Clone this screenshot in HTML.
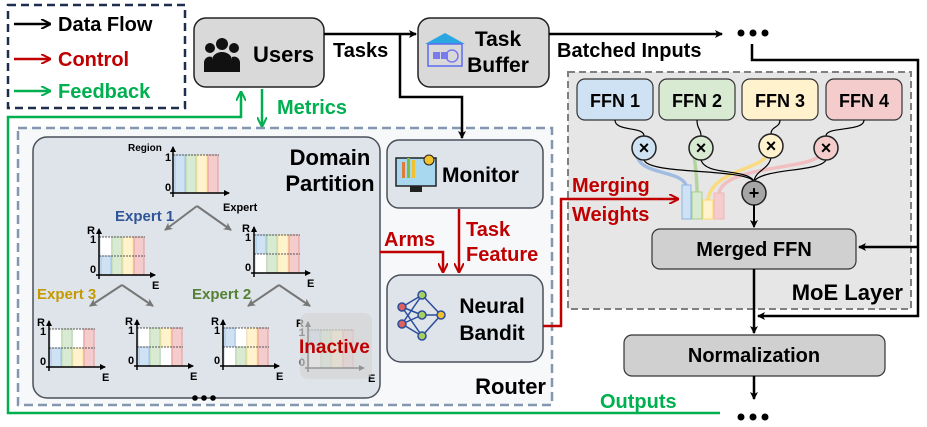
<!DOCTYPE html>
<html><head><meta charset="utf-8"><style>
body{margin:0;background:#fff}
svg{display:block;font-family:"Liberation Sans",sans-serif;font-weight:bold}
</style></head><body>
<svg width="927" height="427" viewBox="0 0 927 427" xmlns="http://www.w3.org/2000/svg">
<defs>
<marker id="ak" markerWidth="8" markerHeight="8" refX="7" refY="4" orient="auto" markerUnits="userSpaceOnUse"><path d="M0,0 L8,4 L0,8 L2,4z" fill="#000"/></marker>
<marker id="ar" markerWidth="10" markerHeight="10" refX="9" refY="5" orient="auto" markerUnits="userSpaceOnUse"><path d="M0,0 L10,5 L0,10" fill="none" stroke="#c00000" stroke-width="2"/></marker>
<marker id="ag" markerWidth="10" markerHeight="10" refX="9" refY="5" orient="auto" markerUnits="userSpaceOnUse"><path d="M0,0 L10,5 L0,10" fill="none" stroke="#00b050" stroke-width="2"/></marker>
<marker id="ab" markerWidth="10" markerHeight="10" refX="9" refY="5" orient="auto" markerUnits="userSpaceOnUse"><path d="M0,0 L10,5 L0,10" fill="none" stroke="#000" stroke-width="2"/></marker>
<marker id="agr" markerWidth="8" markerHeight="8" refX="7" refY="4" orient="auto" markerUnits="userSpaceOnUse"><path d="M0,0 L8,4 L0,8 L2,4z" fill="#777"/></marker>
<marker id="sk" markerWidth="6" markerHeight="6" refX="5" refY="3" orient="auto" markerUnits="userSpaceOnUse"><path d="M0,0 L6,3 L0,6z" fill="#000"/></marker>
</defs>

<rect x="8" y="5" width="177" height="103" fill="none" stroke="#1f2d4e" stroke-width="2.5" stroke-dasharray="8,5"/>
<line x1="14" y1="24" x2="50" y2="24" stroke="#000" stroke-width="2.5" marker-end="url(#ab)"/>
<text x="58" y="31" font-size="20">Data Flow</text>
<line x1="14" y1="59" x2="50" y2="59" stroke="#c00000" stroke-width="2.5" marker-end="url(#ar)"/>
<text x="58" y="66" font-size="20" fill="#c00000">Control</text>
<line x1="14" y1="91" x2="50" y2="91" stroke="#00b050" stroke-width="2.5" marker-end="url(#ag)"/>
<text x="58" y="98" font-size="20" fill="#00b050">Feedback</text>

<rect x="18" y="128" width="534" height="277" fill="#f7f8fa" stroke="#8496b0" stroke-width="2.5" stroke-dasharray="9,5"/>
<rect x="568" y="72" width="343" height="237" fill="#e6e6e6" stroke="#808080" stroke-width="2" stroke-dasharray="7,4"/>

<polyline points="720,413 8,413 8,117 241,117 241,92" fill="none" stroke="#00b050" stroke-width="2.5" marker-end="url(#ag)"/>
<line x1="262" y1="89" x2="262" y2="126" stroke="#00b050" stroke-width="2.5" marker-end="url(#ag)"/>
<text x="277" y="114" font-size="20" fill="#00b050">Metrics</text>
<text x="600" y="408" font-size="20" fill="#00b050">Outputs</text>

<rect x="194" y="18" width="130" height="69" rx="12" fill="#d9d9d9" stroke="#222" stroke-width="1.5"/>
<g fill="#111">
<circle cx="222" cy="44" r="6"/><circle cx="210" cy="48" r="5"/><circle cx="234" cy="48" r="5"/>
<path d="M212,72 v-12 a10,8 0 0 1 20,0 v12z"/><path d="M204,72 v-10 a6,6 0 0 1 8,-5 v15z"/><path d="M232,72 v-15 a6,6 0 0 1 8,5 v10z"/>
</g>
<text x="253" y="62" font-size="22">Users</text>
<text x="333" y="57" font-size="20">Tasks</text>

<rect x="418" y="18" width="131" height="69" rx="12" fill="#d9d9d9" stroke="#222" stroke-width="1.5"/>
<path d="M425,44 L445,33 L465,44z" fill="#2aa6e0"/>
<rect x="428" y="44" width="34" height="22" fill="none" stroke="#5b6cf0" stroke-width="1.5"/>
<rect x="433" y="52" width="7" height="7" fill="#7a7af0"/><rect x="441" y="52" width="7" height="7" fill="#7a7af0"/>
<circle cx="452" cy="56" r="6" fill="none" stroke="#7a7af0" stroke-width="1.5"/>
<text x="498" y="46" font-size="21" text-anchor="middle">Task</text>
<text x="498" y="72" font-size="21" text-anchor="middle">Buffer</text>

<line x1="324" y1="34" x2="416" y2="34" stroke="#000" stroke-width="2.5" marker-end="url(#ak)"/>
<polyline points="400,34 400,97 462,97 462,138" fill="none" stroke="#000" stroke-width="2.5" marker-end="url(#ak)"/>
<line x1="549" y1="34" x2="722" y2="34" stroke="#000" stroke-width="2.5" marker-end="url(#ak)"/>
<text x="557" y="57" font-size="20">Batched Inputs</text>
<g fill="#000"><circle cx="741" cy="33" r="3.5"/><circle cx="753" cy="33" r="3.5"/><circle cx="765" cy="33" r="3.5"/></g>
<polyline points="752,44 752,60 918,60 918,316 758,316" fill="none" stroke="#000" stroke-width="2.5" marker-end="url(#ak)"/>
<line x1="918" y1="247" x2="859" y2="247" stroke="#000" stroke-width="2.5" marker-end="url(#ak)"/>

<rect x="33" y="137" width="347" height="261" rx="14" fill="#dfe3ea" stroke="#4a4f5a" stroke-width="1.5"/>
<text x="330" y="165" font-size="22" text-anchor="middle">Domain</text>
<text x="330" y="191" font-size="22" text-anchor="middle">Partition</text>

<g stroke="#777" stroke-width="2" fill="none">
<line x1="197" y1="206" x2="165" y2="230" marker-end="url(#agr)"/><line x1="197" y1="206" x2="231" y2="230" marker-end="url(#agr)"/>
<line x1="122" y1="285" x2="90" y2="306" marker-end="url(#agr)"/><line x1="122" y1="285" x2="153" y2="306" marker-end="url(#agr)"/>
<line x1="279" y1="285" x2="248" y2="306" marker-end="url(#agr)"/><line x1="279" y1="285" x2="310" y2="306" marker-end="url(#agr)"/>
</g>
<text x="115" y="221" font-size="15" fill="#2e5597">Expert 1</text>
<text x="37" y="299" font-size="15" fill="#c49a00">Expert 3</text>
<text x="192" y="299" font-size="15" fill="#538135">Expert 2</text>

<g transform="translate(173,193)">
<rect x="2" y="-38" width="10" height="38" fill="#cfe2f3" stroke="#9fc5e8"/>
<rect x="13" y="-38" width="10" height="38" fill="#d9ead3" stroke="#b6d7a8"/>
<rect x="24" y="-38" width="10" height="38" fill="#fff2cc" stroke="#ffe599"/>
<rect x="35" y="-38" width="10" height="38" fill="#f4cccc" stroke="#ea9999"/>
<line x1="0" y1="-38" x2="46" y2="-38" stroke="#555" stroke-dasharray="2,1"/>
<line x1="0" y1="4" x2="0" y2="-46" stroke="#000" stroke-width="1.5" marker-end="url(#sk)"/>
<line x1="-3" y1="0" x2="56" y2="0" stroke="#000" stroke-width="1.5" marker-end="url(#sk)"/>
<text x="-45" y="-42" font-size="10">Region</text>
<text x="-8" y="-32" font-size="11">1</text><text x="-8" y="-2" font-size="11">0</text>
<text x="50" y="18" font-size="11">Expert</text>
</g>

<g transform="translate(99,275)">
<rect x="2" y="-38" width="10" height="19" fill="#fff"/><rect x="2" y="-19" width="10" height="19" fill="#cfe2f3" stroke="#9fc5e8"/>
<rect x="13" y="-38" width="10" height="38" fill="#d9ead3" stroke="#b6d7a8"/>
<rect x="24" y="-38" width="10" height="38" fill="#fff2cc" stroke="#ffe599"/>
<rect x="35" y="-38" width="10" height="38" fill="#f4cccc" stroke="#ea9999"/>
<line x1="0" y1="-38" x2="46" y2="-38" stroke="#555" stroke-dasharray="2,1"/><line x1="0" y1="-19" x2="46" y2="-19" stroke="#555" stroke-dasharray="2,1"/>
<line x1="0" y1="4" x2="0" y2="-46" stroke="#000" stroke-width="1.5" marker-end="url(#sk)"/><line x1="-3" y1="0" x2="56" y2="0" stroke="#000" stroke-width="1.5" marker-end="url(#sk)"/>
<text x="-12" y="-41" font-size="11">R</text><text x="-9" y="-32" font-size="11">1</text><text x="-9" y="-2" font-size="11">0</text><text x="53" y="14" font-size="11">E</text>
</g>
<g transform="translate(254,273)">
<rect x="2" y="-38" width="10" height="19" fill="#cfe2f3" stroke="#9fc5e8"/><rect x="2" y="-19" width="10" height="19" fill="#fff"/>
<rect x="13" y="-38" width="10" height="38" fill="#d9ead3" stroke="#b6d7a8"/>
<rect x="24" y="-38" width="10" height="38" fill="#fff2cc" stroke="#ffe599"/>
<rect x="35" y="-38" width="10" height="38" fill="#f4cccc" stroke="#ea9999"/>
<line x1="0" y1="-38" x2="46" y2="-38" stroke="#555" stroke-dasharray="2,1"/><line x1="0" y1="-19" x2="46" y2="-19" stroke="#555" stroke-dasharray="2,1"/>
<line x1="0" y1="4" x2="0" y2="-46" stroke="#000" stroke-width="1.5" marker-end="url(#sk)"/><line x1="-3" y1="0" x2="56" y2="0" stroke="#000" stroke-width="1.5" marker-end="url(#sk)"/>
<text x="-12" y="-41" font-size="11">R</text><text x="-9" y="-32" font-size="11">1</text><text x="-9" y="-2" font-size="11">0</text><text x="53" y="14" font-size="11">E</text>
</g>
<g transform="translate(49,367)">
<rect x="2" y="-38" width="10" height="19" fill="#fff"/><rect x="2" y="-19" width="10" height="19" fill="#cfe2f3" stroke="#9fc5e8"/>
<rect x="13" y="-38" width="10" height="38" fill="#d9ead3" stroke="#b6d7a8"/>
<rect x="24" y="-38" width="10" height="19" fill="#fff"/><rect x="24" y="-19" width="10" height="19" fill="#fff2cc" stroke="#ffe599"/>
<rect x="35" y="-38" width="10" height="38" fill="#f4cccc" stroke="#ea9999"/>
<line x1="0" y1="-38" x2="46" y2="-38" stroke="#555" stroke-dasharray="2,1"/><line x1="0" y1="-19" x2="46" y2="-19" stroke="#555" stroke-dasharray="2,1"/>
<line x1="0" y1="4" x2="0" y2="-46" stroke="#000" stroke-width="1.5" marker-end="url(#sk)"/><line x1="-3" y1="0" x2="56" y2="0" stroke="#000" stroke-width="1.5" marker-end="url(#sk)"/>
<text x="-12" y="-41" font-size="11">R</text><text x="-9" y="-32" font-size="11">1</text><text x="-9" y="-2" font-size="11">0</text><text x="53" y="14" font-size="11">E</text>
</g>
<g transform="translate(137,366)">
<rect x="2" y="-38" width="10" height="19" fill="#fff"/><rect x="2" y="-19" width="10" height="19" fill="#cfe2f3" stroke="#9fc5e8"/>
<rect x="13" y="-38" width="10" height="38" fill="#d9ead3" stroke="#b6d7a8"/>
<rect x="24" y="-38" width="10" height="19" fill="#fff2cc" stroke="#ffe599"/><rect x="24" y="-19" width="10" height="19" fill="#fff"/>
<rect x="35" y="-38" width="10" height="38" fill="#f4cccc" stroke="#ea9999"/>
<line x1="0" y1="-38" x2="46" y2="-38" stroke="#555" stroke-dasharray="2,1"/><line x1="0" y1="-19" x2="46" y2="-19" stroke="#555" stroke-dasharray="2,1"/>
<line x1="0" y1="4" x2="0" y2="-46" stroke="#000" stroke-width="1.5" marker-end="url(#sk)"/><line x1="-3" y1="0" x2="56" y2="0" stroke="#000" stroke-width="1.5" marker-end="url(#sk)"/>
<text x="-12" y="-41" font-size="11">R</text><text x="-9" y="-32" font-size="11">1</text><text x="-9" y="-2" font-size="11">0</text><text x="53" y="14" font-size="11">E</text>
</g>
<g transform="translate(223,366)">
<rect x="2" y="-38" width="10" height="19" fill="#cfe2f3" stroke="#9fc5e8"/><rect x="2" y="-19" width="10" height="19" fill="#fff"/>
<rect x="13" y="-38" width="10" height="19" fill="#fff"/><rect x="13" y="-19" width="10" height="19" fill="#d9ead3" stroke="#b6d7a8"/>
<rect x="24" y="-38" width="10" height="38" fill="#fff2cc" stroke="#ffe599"/>
<rect x="35" y="-38" width="10" height="38" fill="#f4cccc" stroke="#ea9999"/>
<line x1="0" y1="-38" x2="46" y2="-38" stroke="#555" stroke-dasharray="2,1"/><line x1="0" y1="-19" x2="46" y2="-19" stroke="#555" stroke-dasharray="2,1"/>
<line x1="0" y1="4" x2="0" y2="-46" stroke="#000" stroke-width="1.5" marker-end="url(#sk)"/><line x1="-3" y1="0" x2="56" y2="0" stroke="#000" stroke-width="1.5" marker-end="url(#sk)"/>
<text x="-12" y="-41" font-size="11">R</text><text x="-9" y="-32" font-size="11">1</text><text x="-9" y="-2" font-size="11">0</text><text x="53" y="14" font-size="11">E</text>
</g>
<g transform="translate(308,368)">
<rect x="2" y="-38" width="10" height="19" fill="#cfe2f3" stroke="#9fc5e8"/><rect x="2" y="-19" width="10" height="19" fill="#fff"/>
<rect x="13" y="-38" width="10" height="38" fill="#d9ead3" stroke="#b6d7a8"/>
<rect x="24" y="-38" width="10" height="38" fill="#fff2cc" stroke="#ffe599"/>
<rect x="35" y="-38" width="10" height="38" fill="#f4cccc" stroke="#ea9999"/>
<line x1="0" y1="-38" x2="46" y2="-38" stroke="#555" stroke-dasharray="2,1"/>
<line x1="0" y1="4" x2="0" y2="-46" stroke="#000" stroke-width="1.5" marker-end="url(#sk)"/><line x1="-3" y1="0" x2="56" y2="0" stroke="#000" stroke-width="1.5" marker-end="url(#sk)"/>
<text x="-12" y="-41" font-size="11">R</text><text x="-9" y="-32" font-size="11">1</text><text x="-9" y="-2" font-size="11">0</text><text x="60" y="14" font-size="11">E</text>
</g>
<rect x="300" y="313" width="72" height="66" rx="8" fill="#d4d4d4" opacity="0.7"/>
<text x="299" y="353" font-size="19" fill="#c00000">Inactive</text>
<g fill="#000"><circle cx="195" cy="398" r="2.8"/><circle cx="204" cy="398" r="2.8"/><circle cx="213" cy="398" r="2.8"/></g>

<rect x="387" y="140" width="156" height="68" rx="12" fill="#dfe3ea" stroke="#4a4f5a" stroke-width="1.5"/>
<rect x="396" y="158" width="40" height="28" fill="#a8d8f0" stroke="#222" stroke-width="1.5"/>
<rect x="402" y="162" width="3" height="16" fill="#e07b39"/><rect x="407" y="158" width="3" height="20" fill="#7cbf3f"/><rect x="412" y="160" width="3" height="18" fill="#f2c12e"/>
<circle cx="429" cy="160" r="5" fill="#f2c12e" stroke="#222"/>
<rect x="410" y="186" width="12" height="6" fill="#222"/>
<text x="442" y="182" font-size="21">Monitor</text>

<rect x="387" y="275" width="156" height="87" rx="14" fill="#dfe3ea" stroke="#4a4f5a" stroke-width="1.5"/>
<g stroke="#2a4d9b" stroke-width="1.5">
<line x1="402" y1="307" x2="422" y2="295"/><line x1="402" y1="307" x2="422" y2="315"/><line x1="402" y1="307" x2="422" y2="336"/>
<line x1="402" y1="324" x2="422" y2="295"/><line x1="402" y1="324" x2="422" y2="315"/><line x1="402" y1="324" x2="422" y2="336"/>
<line x1="422" y1="295" x2="441" y2="315"/><line x1="422" y1="315" x2="441" y2="315"/><line x1="422" y1="336" x2="441" y2="315"/>
</g>
<g stroke="#2a4d9b" stroke-width="1.5"><circle cx="402" cy="307" r="4" fill="#e06060"/><circle cx="402" cy="324" r="4" fill="#e06060"/><circle cx="422" cy="295" r="4" fill="#a8d060"/><circle cx="422" cy="315" r="4" fill="#a8d060"/><circle cx="422" cy="336" r="4" fill="#a8d060"/><circle cx="441" cy="315" r="4" fill="#f2c12e"/></g>
<text x="492" y="313" font-size="21" text-anchor="middle">Neural</text>
<text x="492" y="340" font-size="21" text-anchor="middle">Bandit</text>
<text x="546" y="394" font-size="22" text-anchor="end">Router</text>

<line x1="459" y1="209" x2="459" y2="272" stroke="#c00000" stroke-width="2.5" marker-end="url(#ar)"/>
<text x="466" y="236" font-size="20" fill="#c00000">Task</text>
<text x="466" y="261" font-size="20" fill="#c00000">Feature</text>
<polyline points="380,252 443,252 443,272" fill="none" stroke="#c00000" stroke-width="2.5" marker-end="url(#ar)"/>
<text x="384" y="246" font-size="20" fill="#c00000">Arms</text>
<polyline points="543,326 561,326 561,199 678,199" fill="none" stroke="#c00000" stroke-width="2.5" marker-end="url(#ar)"/>
<text x="572" y="192" font-size="20" fill="#c00000">Merging</text>
<text x="572" y="221" font-size="20" fill="#c00000">Weights</text>

<rect x="577" y="79" width="76" height="41" rx="8" fill="#cfe2f3" stroke="#333" stroke-width="1.2"/>
<rect x="659" y="79" width="76" height="41" rx="8" fill="#d9ead3" stroke="#333" stroke-width="1.2"/>
<rect x="742" y="79" width="76" height="41" rx="8" fill="#fff2cc" stroke="#333" stroke-width="1.2"/>
<rect x="826" y="79" width="76" height="41" rx="8" fill="#f4cccc" stroke="#333" stroke-width="1.2"/>
<text x="615" y="107" font-size="18" text-anchor="middle">FFN 1</text>
<text x="697" y="107" font-size="18" text-anchor="middle">FFN 2</text>
<text x="780" y="107" font-size="18" text-anchor="middle">FFN 3</text>
<text x="864" y="107" font-size="18" text-anchor="middle">FFN 4</text>

<g fill="none" stroke-width="3.5" opacity="0.8">
<path d="M637,155 C640,175 680,170 686,185" stroke="#8fb4e0"/>
<path d="M694,155 C696,170 697,180 697,192" stroke="#a8d08d"/>
<path d="M767,155 C760,170 712,170 708,200" stroke="#ffd966"/>
<path d="M820,155 C810,170 725,165 719,193" stroke="#f4b6b6"/>
</g>
<g fill="none" stroke="#000" stroke-width="1.2">
<path d="M615,120 C615,132 644,126 644,136"/><path d="M697,120 C697,130 701,128 701,136"/><path d="M780,120 C780,128 771,126 771,134"/><path d="M864,120 C864,132 826,126 826,136"/>
<path d="M644,160 C650,175 740,168 754,181"/><path d="M701,160 C706,176 745,168 754,181"/><path d="M771,158 C768,170 756,170 754,181"/><path d="M826,160 C820,172 765,168 754,181"/>
</g>
<g stroke="#222" stroke-width="1.5">
<circle cx="644" cy="148" r="12" fill="#cfe2f3"/><circle cx="701" cy="148" r="12" fill="#d9ead3"/><circle cx="771" cy="146" r="12" fill="#fff2cc"/><circle cx="826" cy="148" r="12" fill="#f4cccc"/>
<circle cx="754" cy="193" r="12" fill="#a6a6a6"/>
</g>
<g font-size="18" text-anchor="middle" font-weight="bold"><text x="644" y="154">×</text><text x="701" y="154">×</text><text x="771" y="152">×</text><text x="826" y="154">×</text><text x="754" y="199">+</text></g>
<rect x="682" y="185" width="9" height="34" fill="#cfe2f3" stroke="#8fb4e0"/>
<rect x="692" y="192" width="10" height="27" fill="#d9ead3" stroke="#a8d08d"/>
<rect x="703" y="200" width="10" height="19" fill="#fff2cc" stroke="#ffd966"/>
<rect x="714" y="193" width="10" height="26" fill="#f4cccc" stroke="#f4b6b6"/>
<line x1="754" y1="205" x2="754" y2="227" stroke="#000" stroke-width="2" marker-end="url(#ak)"/>

<rect x="652" y="229" width="204" height="40" rx="8" fill="#d0d0d0" stroke="#333" stroke-width="1.2"/>
<text x="754" y="256" font-size="20" text-anchor="middle">Merged FFN</text>
<text x="903" y="300" font-size="22" text-anchor="end">MoE Layer</text>

<line x1="754" y1="269" x2="754" y2="333" stroke="#000" stroke-width="2.5" marker-end="url(#ak)"/>
<rect x="624" y="335" width="261" height="41" rx="8" fill="#d0d0d0" stroke="#333" stroke-width="1.2"/>
<text x="754" y="362" font-size="20" text-anchor="middle">Normalization</text>
<line x1="754" y1="376" x2="754" y2="399" stroke="#000" stroke-width="2.5" marker-end="url(#ak)"/>
<g fill="#000"><circle cx="741" cy="417" r="3.5"/><circle cx="753" cy="417" r="3.5"/><circle cx="765" cy="417" r="3.5"/></g>
</svg>
</body></html>
